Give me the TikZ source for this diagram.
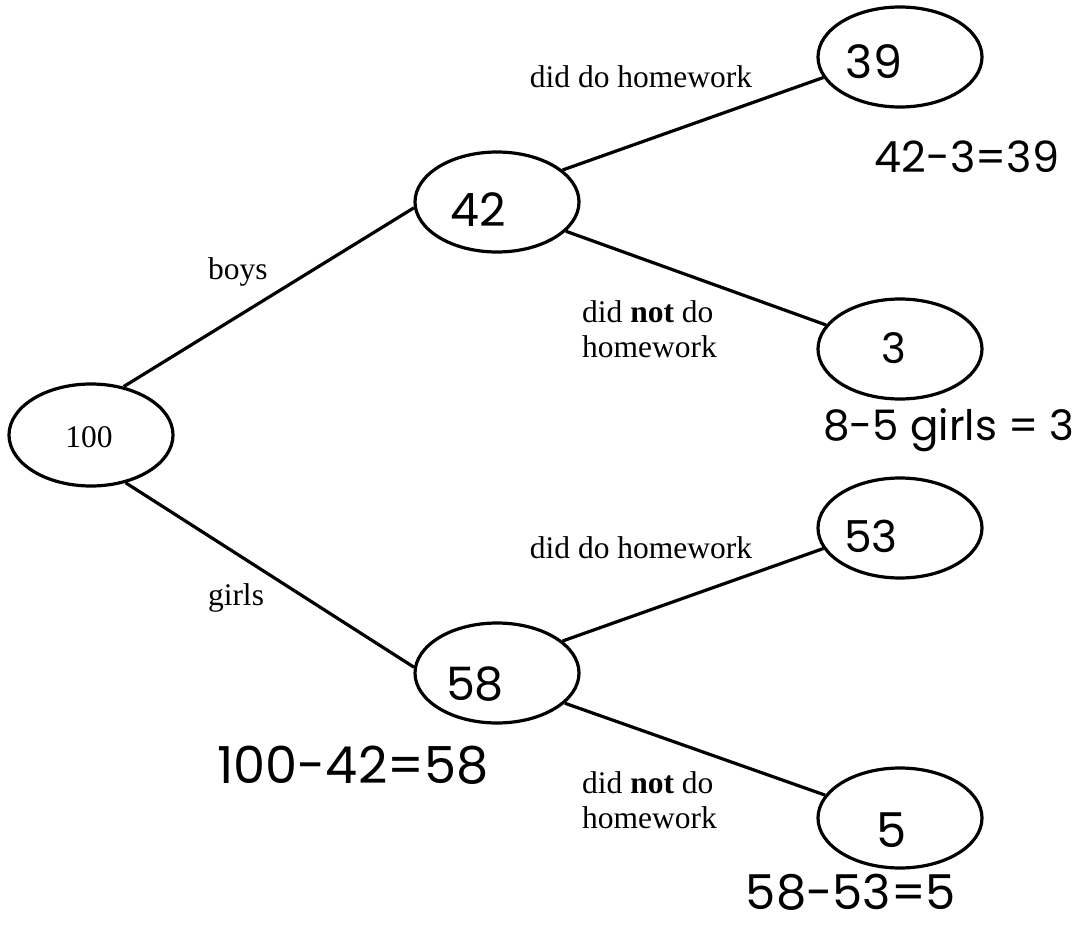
\documentclass[tikz,border=0pt]{standalone}
\usepackage{fontspec}
\setmainfont{Liberation Serif}
\newfontfamily\hw{Poppins}
\usetikzlibrary{shapes.geometric}
\tikzset{
  oval/.style={draw, ellipse, line width=3.2pt, minimum width=164pt, minimum height=100pt, inner sep=0pt},
  conn/.style={line width=3.2pt},
  lbl/.style={font=\fontsize{31.5}{35}\selectfont, inner sep=0pt, anchor=base},
  hand/.style={font=\hw\fontsize{#1}{#1}\selectfont, inner sep=0pt, anchor=base},
}
\begin{document}
\begin{tikzpicture}[x=1pt,y=-1pt]
\useasboundingbox (0,0) rectangle (1080,929);
% ellipses
\node[oval, minimum height=102pt] (n100) at (91,435) {};
\node[oval] (n42) at (497,202) {};
\node[oval] (n58) at (497,673) {};
\node[oval] (n39) at (900,57) {};
\node[oval] (n3) at (900,349) {};
\node[oval] (n53) at (900,528) {};
\node[oval] (n5) at (900,818) {};
% connectors
\draw[conn] (n100.56) -- (n42.184);
\draw[conn] (n100.-54) -- (n58.176);
\draw[conn] (n42.26) -- (n39.195);
\draw[conn] (n42.-23) -- (n3.162);
\draw[conn] (n58.26) -- (n53.195);
\draw[conn] (n58.-24) -- (n5.163);
% printed labels
\node[lbl] (t100) at (89,447) {100};
\node[lbl] (boys) at (238,279) {boys};
\node[lbl] (girls) at (236,605) {girls};
\node[lbl] (dd1) at (641,87) {did do homework};
\node[lbl] (dd2) at (641,558) {did do homework};
\node[lbl, anchor=north west, align=left] (dn1) at (582,300) {did \textbf{not} do\\homework};
\node[lbl, anchor=north west, align=left] (dn2) at (582,771) {did \textbf{not} do\\homework};
% handwritten numbers
\node[hand=46] (h39) at (874,78) {39};
\node[hand=46] (h42) at (478,226) {42};
\node[hand=42] (h3) at (894,363) {3};
\node[hand=46] (h58) at (475,700) {58};
\node[hand=44] (h53) at (871,552) {53};
\node[hand=48] (h5) at (892,847) {5};
% handwritten working
\node[hand=43] (w1) at (967,172) {42-3=39};
\node[hand=42] (w2) at (949,440) {8-5 girls = 3};
\node[hand=51] (w3) at (353,783) {100-42=58};
\node[hand=48] (w4) at (851,909) {58-53=5};
\end{tikzpicture}
\end{document}
